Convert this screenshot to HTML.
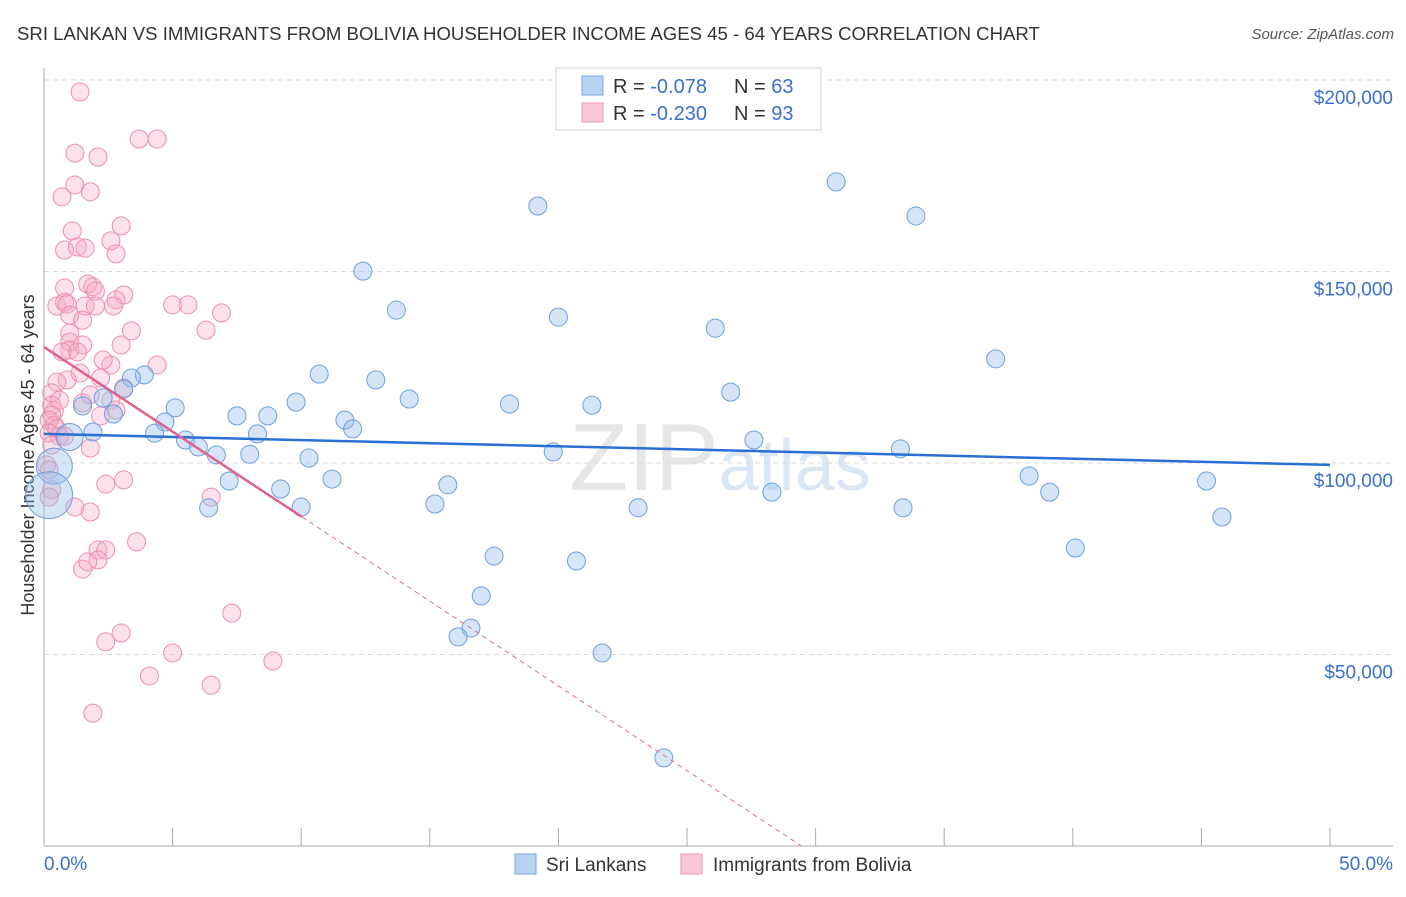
<!DOCTYPE html>
<html><head><meta charset="utf-8"><style>
body{margin:0;background:#fff;font-family:"Liberation Sans",sans-serif;}
svg text{font-family:"Liberation Sans",sans-serif;}
</style></head><body>
<svg id="chart" width="1406" height="892" viewBox="0 0 1406 892" xmlns="http://www.w3.org/2000/svg">
<text x="17" y="40" font-size="18.6" fill="#333">SRI LANKAN VS IMMIGRANTS FROM BOLIVIA HOUSEHOLDER INCOME AGES 45 - 64 YEARS CORRELATION CHART</text>
<text x="1394" y="39" font-size="15" fill="#555" font-style="italic" text-anchor="end">Source: ZipAtlas.com</text>
<text x="720" y="490" font-size="96" fill="#e6e6e6" text-anchor="middle" font-family="Liberation Serif">ZIP<tspan fill="#dbe6f4" font-family="Liberation Sans" font-size="72">atlas</tspan></text>
<g id="grid"></g>
<g id="axes"></g>
<text transform="translate(34,455) rotate(-90)" font-size="18" fill="#333" text-anchor="middle">Householder Income Ages 45 - 64 years</text>
<g id="pink"></g>
<g id="blue"></g>
<g id="lines"></g>
<g>
<rect x="556" y="68" width="265" height="62" fill="#fff" stroke="#d0d0d0"/>
<rect x="582" y="76" width="21" height="19" fill="#b9d3f3" stroke="#7aa6e0"/>
<rect x="582" y="103" width="21" height="19" fill="#f9c8d6" stroke="#ec98b2"/>
<text x="613" y="93" font-size="20" fill="#333">R = <tspan fill="#3a6fcf">-0.078</tspan></text>
<text x="734" y="93" font-size="20" fill="#333">N = <tspan fill="#3a6fcf">63</tspan></text>
<text x="613" y="120" font-size="20" fill="#333">R = <tspan fill="#3a6fcf">-0.230</tspan></text>
<text x="734" y="120" font-size="20" fill="#333">N = <tspan fill="#3a6fcf">93</tspan></text>
</g>
<g>
<rect x="515" y="854" width="21" height="20" fill="#b9d3f3" stroke="#7aa6e0"/>
<text x="546" y="871" font-size="19" fill="#333">Sri Lankans</text>
<rect x="681" y="854" width="21" height="20" fill="#f9c8d6" stroke="#ec98b2"/>
<text x="713" y="871" font-size="19" fill="#333">Immigrants from Bolivia</text>
</g>
</svg>
<script>
const yTicks=[50000,100000,150000,200000];
const yTickLabels=["$50,000","$100,000","$150,000","$200,000"];
const xTickLabels=["0.0%","50.0%"];
const blueX=[30.8,33.9,19.2,12.4,13.7,20.0,26.1,37.0,10.7,12.9,26.7,14.2,18.1,21.3,5.1,3.9,3.4,3.1,2.3,1.5,2.7,7.5,8.7,9.8,11.7,12.0,4.7,4.3,1.9,1.0,5.5,6.0,6.7,8.3,8.0,27.6,33.3,19.8,10.3,7.2,9.2,11.2,15.7,15.2,6.4,10.0,23.1,28.3,33.4,38.3,39.1,45.2,45.8,40.1,17.5,20.7,17.0,16.6,16.1,21.7,24.1,0.4,0.2];
const blueY=[173.4,164.5,167.1,150.1,139.9,138.1,135.2,127.2,123.2,121.7,118.5,116.7,115.4,115.1,114.4,123.0,122.2,119.3,117.0,114.9,112.8,112.3,112.3,115.9,111.2,108.9,110.7,107.8,108.1,106.8,106.0,104.2,102.1,107.6,102.3,106.0,103.7,102.9,101.3,95.3,93.2,95.8,94.3,89.3,88.3,88.5,88.3,92.4,88.3,96.6,92.4,95.3,85.9,77.8,75.7,74.4,65.3,56.9,54.6,50.4,23.0,99.2,91.6];
const blueSize=[1,1,1,1,1,1,1,1,1,1,1,1,1,1,1,1,1,1,1,1,1,1,1,1,1,1,1,1,1,1.5,1,1,1,1,1,1,1,1,1,1,1,1,1,1,1,1,1,1,1,1,1,1,1,1,1,1,1,1,1,1,1,2,2.6];
const pinkX=[1.4,3.7,4.4,1.2,2.1,1.2,1.8,0.7,1.1,3.0,2.6,2.8,0.8,1.3,1.6,0.8,1.7,1.9,2.0,0.5,0.8,0.9,1.6,2.0,2.8,3.1,2.7,5.0,5.6,6.9,6.3,1.0,1.5,1.0,1.0,1.5,1.0,1.3,0.7,3.0,3.4,4.4,2.6,2.2,1.4,0.9,0.5,0.3,0.3,0.4,0.3,0.2,0.4,0.5,0.2,0.6,0.3,0.8,1.8,0.1,2.6,2.8,3.1,1.5,2.2,1.2,1.8,2.4,3.1,6.5,3.6,2.1,2.4,2.1,1.5,1.7,7.3,3.0,2.4,5.0,8.9,4.1,6.5,1.9,0.3,0.2,0.2,2.3,1.8,0.6];
const pinkY=[196.9,184.6,184.6,180.9,179.9,172.6,170.8,169.5,160.6,161.9,158.0,154.6,155.6,156.4,156.1,145.7,146.7,146.0,144.9,141.0,142.0,141.5,141.0,141.0,142.6,143.9,141.0,141.3,141.3,139.2,134.7,138.6,137.3,133.9,131.6,130.8,129.5,129.0,129.0,130.8,134.5,125.6,125.6,122.2,123.5,121.7,121.1,118.3,115.1,113.6,112.5,111.2,109.9,108.9,107.8,107.0,104.7,107.0,103.9,99.5,116.4,113.8,119.6,115.7,112.3,88.5,87.2,94.5,95.6,91.1,79.4,77.3,77.3,74.7,72.3,74.2,60.8,55.6,53.3,50.4,48.3,44.4,42.0,34.7,93.0,91.1,98.2,126.9,117.8,116.4];
const blueTrend=[107.6,99.5];   // $k at 0% and 50%
const pinkTrend=[130.3,-4.425]; // intercept $k, slope per %
const pinkSolidEnd=10.03;

const NS="http://www.w3.org/2000/svg";
const X0=44,X1=1330,YB=463,PX=191.5/50000;
const xs=v=>X0+v/50*(X1-X0);
const ys=v=>YB-(v-100000)*PX;
function mk(tag,attrs,parent){const e=document.createElementNS(NS,tag);for(const k in attrs)e.setAttribute(k,attrs[k]);parent.appendChild(e);return e;}
const grid=document.getElementById('grid'),axes=document.getElementById('axes');
yTicks.forEach((t,i)=>{
  const l=mk('line',{x1:X0,x2:1393,y1:ys(t),y2:ys(t),stroke:'#dadada','stroke-dasharray':'5,4'},grid);
  
  
  const tx=mk('text',{x:1393,y:ys(t)+24,'font-size':19,fill:'#3a6fcf','text-anchor':'end'},axes);
  tx.textContent=yTickLabels[i];
  
  
});
const ya=mk('line',{x1:X0,x2:X0,y1:68,y2:846,stroke:'#aaa'},axes);


const xa=mk('line',{x1:X0,x2:1393,y1:846,y2:846,stroke:'#aaa'},axes);


for(let i=0;i<=10;i++){
  const t=mk('line',{x1:xs(i*5),x2:xs(i*5),y1:828,y2:846,stroke:'#aaa'},axes);
  
  
}
[[0,'start',44],[50,'end',1393]].forEach((d,i)=>{
  const tx=mk('text',{x:d[2],y:870,'font-size':19,fill:'#3a6fcf','text-anchor':d[1]},axes);
  tx.textContent=xTickLabels[i];
  
  
});
const pg=document.getElementById('pink');
pinkX.forEach((x,i)=>{
  const c=mk('circle',{cx:xs(x),cy:ys(pinkY[i]*1000),r:9,fill:'rgba(246,168,195,0.35)',stroke:'#eb8fae','stroke-width':1},pg);
  
  
});
const bg=document.getElementById('blue');
blueX.forEach((x,i)=>{
  const c=mk('circle',{cx:xs(x),cy:ys(blueY[i]*1000),r:9*blueSize[i],fill:'rgba(150,190,235,0.4)',stroke:'#6d9fe0','stroke-width':1},bg);
  
  
});
const lg=document.getElementById('lines');
const bl=mk('line',{x1:xs(0),y1:ys(blueTrend[0]*1000),x2:xs(50),y2:ys(blueTrend[1]*1000),stroke:'#2a6fd6','stroke-width':2.5},lg);


const pf=x=>(pinkTrend[0]+pinkTrend[1]*x)*1000;
const xEnd=-pinkTrend[0]/pinkTrend[1];
const pd=mk('line',{x1:xs(pinkSolidEnd),y1:ys(pf(pinkSolidEnd)),x2:xs(xEnd),y2:ys(0),stroke:'#e56d95','stroke-width':1,'stroke-dasharray':'5,4'},lg);


const ps=mk('line',{x1:xs(0),y1:ys(pf(0)),x2:xs(pinkSolidEnd),y2:ys(pf(pinkSolidEnd)),stroke:'#e0628d','stroke-width':2.5},lg);


</script>
</body></html>
